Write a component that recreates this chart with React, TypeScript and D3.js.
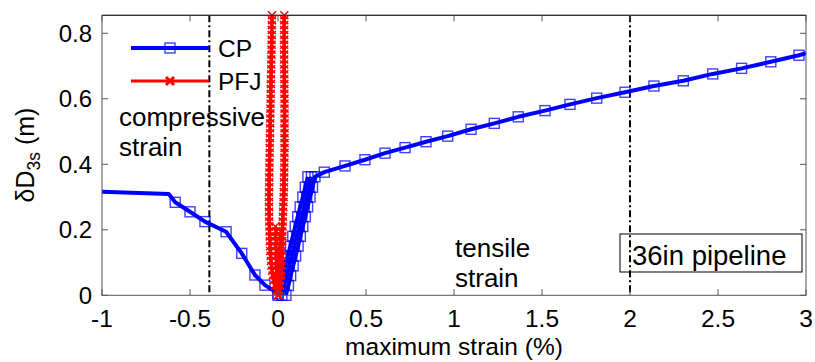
import React from 'react';
import * as d3 from 'd3';

const W = 815;
const H = 362;

// axis ticks
const xTicks = [-1, -0.5, 0, 0.5, 1, 1.5, 2, 2.5, 3];
const xTickLabels = ['-1', '-0.5', '0', '0.5', '1', '1.5', '2', '2.5', '3'];
const yTicks = [0, 0.2, 0.4, 0.6, 0.8];
const yTickLabels = ['0', '0.2', '0.4', '0.6', '0.8'];
const guideX = [-0.39, 2.0];

// CP: compressive branch
const cpLoadX = [-1, -0.62, -0.584, -0.5, -0.415, -0.295, -0.206, -0.131, -0.074, 0.0];
const cpLoadY = [0.316, 0.309, 0.284, 0.255, 0.225, 0.194, 0.128, 0.062, 0.031, 0.005];

// CP: rising traces near zero strain
const cpRiseAX = [0.0, 0.013, 0.027, 0.041, 0.055, 0.07, 0.084, 0.098, 0.112, 0.126, 0.141, 0.155, 0.17];
const cpRiseAY = [0.0, 0.03, 0.06, 0.09, 0.12, 0.15, 0.18, 0.21, 0.24, 0.27, 0.3, 0.33, 0.362];
const cpRiseCX = [0.022, 0.036, 0.05, 0.064, 0.078, 0.093, 0.107, 0.121, 0.135, 0.149, 0.163, 0.177, 0.19];
const cpRiseCY = [0.0, 0.03, 0.06, 0.09, 0.12, 0.15, 0.18, 0.21, 0.24, 0.27, 0.3, 0.33, 0.362];

// CP: tensile branch (starts near zero, continues to 3 %)
const cpTensX = [0.045, 0.059, 0.072, 0.086, 0.1, 0.114, 0.127, 0.141, 0.155, 0.168, 0.182, 0.196, 0.21,
  0.263, 0.381, 0.494, 0.608, 0.722, 0.841, 0.964, 1.097, 1.229, 1.365, 1.517, 1.659, 1.811, 1.972,
  2.136, 2.303, 2.47, 2.634, 2.8, 2.96, 3.0];
const cpTensY = [0.0, 0.03, 0.06, 0.09, 0.12, 0.15, 0.18, 0.21, 0.24, 0.27, 0.3, 0.33, 0.362,
  0.376, 0.395, 0.414, 0.434, 0.451, 0.469, 0.486, 0.507, 0.525, 0.545, 0.564, 0.583, 0.602, 0.62,
  0.639, 0.655, 0.676, 0.693, 0.713, 0.733, 0.739];

// PFJ traces
const pfjY = [0, 0.015, 0.03, 0.045, 0.06, 0.075, 0.09, 0.105, 0.12, 0.135, 0.15, 0.165, 0.18, 0.195,
  0.21, 0.225, 0.24, 0.255, 0.27, 0.285, 0.3, 0.315, 0.33, 0.345, 0.36, 0.375, 0.39, 0.405, 0.42,
  0.435, 0.45, 0.465, 0.48, 0.495, 0.51, 0.525, 0.54, 0.555, 0.57, 0.585, 0.6, 0.615, 0.63, 0.645,
  0.66, 0.675, 0.69, 0.705, 0.72, 0.735, 0.75, 0.765, 0.78, 0.795, 0.81, 0.825, 0.84, 0.855];
const pfjAX = [0, -0.008, -0.018, -0.025, -0.03, -0.034, -0.037, -0.04, -0.042, -0.044, -0.045, -0.046,
  -0.047, -0.048, -0.049, -0.05, -0.05, -0.051, -0.051, -0.051, -0.051, -0.051, -0.05, -0.05, -0.05,
  -0.049, -0.049, -0.048, -0.048, -0.047, -0.047, -0.046, -0.046, -0.045, -0.045, -0.044, -0.044,
  -0.043, -0.043, -0.042, -0.042, -0.041, -0.041, -0.04, -0.04, -0.039, -0.039, -0.038, -0.038,
  -0.037, -0.037, -0.036, -0.036, -0.035, -0.035, -0.035, -0.034, -0.034];
const pfjBX = [0.002, 0.006, 0.01, 0.013, 0.016, 0.018, 0.02, 0.021, 0.022, 0.023, 0.024, 0.024,
  0.025, 0.025, 0.026, 0.027, 0.028, 0.029, 0.03, 0.031, 0.032, 0.033, 0.034, 0.034, 0.035, 0.035,
  0.036, 0.036, 0.036, 0.037, 0.037, 0.037, 0.037, 0.037, 0.037, 0.037, 0.037, 0.037, 0.037, 0.037,
  0.037, 0.036, 0.036, 0.036, 0.036, 0.036, 0.035, 0.035, 0.035, 0.035, 0.035, 0.035, 0.035, 0.035,
  0.035, 0.035, 0.035, 0.036];
const pfjCX = [0, -0.004, -0.008, -0.006, -0.01, -0.007, -0.011, -0.008, -0.012, -0.009, -0.013, -0.01, -0.014, -0.011, -0.015];
const pfjCY = [0, 0.015, 0.03, 0.045, 0.06, 0.075, 0.09, 0.105, 0.12, 0.135, 0.15, 0.165, 0.18, 0.195, 0.21];
const pfjDX = [0.002, 0.005, 0.003, 0.007, 0.005, 0.009, 0.007, 0.011, 0.009, 0.012, 0.011, 0.014, 0.013, 0.016];
const pfjDY = [0, 0.015, 0.03, 0.045, 0.06, 0.075, 0.09, 0.105, 0.12, 0.135, 0.15, 0.165, 0.18, 0.195];

const legendLabels = ['CP', 'PFJ'];

const BLUE = '#0000ff';
const RED = '#ff0000';
const FONT = '"Liberation Sans", Arial, Helvetica, sans-serif';

type P = [number, number];
const zip = (xs: number[], ys: number[]): P[] => xs.slice(0, Math.min(xs.length, ys.length)).map((v, i) => [v, ys[i]]);

export default function App() {
  const x = d3.scaleLinear().domain([-1, 3]).range([102, 806]);
  const y = d3.scaleLinear().domain([0, 0.855]).range([295.3, 15.3]);
  const [x0, x1] = x.range();
  const [y0, y1] = y.range();
  const line = d3.line<P>().x(d => x(d[0])).y(d => y(d[1]));

  const cpLoad = zip(cpLoadX, cpLoadY);
  const cpTraces = [cpLoad, zip(cpRiseAX, cpRiseAY), zip(cpRiseCX, cpRiseCY), zip(cpTensX, cpTensY)];
  const pfjTraces = [zip(pfjAX, pfjY), zip(pfjBX, pfjY), zip(pfjCX, pfjCY), zip(pfjDX, pfjDY)];

  const cpMarkers = cpTraces.flat().filter(d => d[0] > -0.6 && d[0] < 3);
  const pfjMarkers = pfjTraces.flat();

  const sq = (cx: number, cy: number, k: string) => (
    <rect key={k} x={cx - 5} y={cy - 5} width={10} height={10} fill="none" stroke={BLUE} strokeWidth={1.4} strokeOpacity={0.75} />
  );
  const cross = (cx: number, cy: number, k: string, s = 4, sw = 1.5) => (
    <path key={k} d={`M${cx - s},${cy - s}L${cx + s},${cy + s}M${cx - s},${cy + s}L${cx + s},${cy - s}`} stroke={RED} strokeWidth={sw} fill="none" />
  );

  const tickLen = 6;
  const axisColor = '#555';

  return (
    <svg width={W} height={H} viewBox={`0 0 ${W} ${H}`} style={{ position: 'absolute', left: 0, top: 0, background: '#fff' }} fontFamily={FONT}>
      <defs>
        <clipPath id="plotClip">
          <rect x={x0} y={y1} width={x1 - x0} height={y0 - y1} />
        </clipPath>
      </defs>
      <rect x={0} y={0} width={W} height={H} fill="#fff" />

      {/* guide lines */}
      {guideX.map((g, i) => (
        <line key={'g' + i} x1={x(g)} x2={x(g)} y1={y1} y2={y0} stroke="#000" strokeWidth={2} strokeDasharray="7,3,2,3" />
      ))}

      {/* CP */}
      <g clipPath="url(#plotClip)">
        {cpTraces.map((t, i) => (
          <path key={'cp' + i} d={line(t) || ''} fill="none" stroke={BLUE} strokeWidth={4} strokeLinejoin="round" />
        ))}
      </g>
      {cpMarkers.map((d, i) => sq(x(d[0]), y(d[1]), 'cpm' + i))}

      {/* PFJ */}
      <g clipPath="url(#plotClip)">
        {pfjTraces.map((t, i) => (
          <path key={'pf' + i} d={line(t) || ''} fill="none" stroke={RED} strokeWidth={3.5} strokeLinejoin="round" />
        ))}
      </g>
      {pfjMarkers.map((d, i) => cross(x(d[0]), y(d[1]), 'pfm' + i))}

      {/* axes box */}
      <rect x={x0} y={y1} width={x1 - x0} height={y0 - y1} fill="none" stroke={axisColor} strokeWidth={1} />
      <line x1={x0} x2={x1} y1={y1} y2={y1} stroke="#333" strokeWidth={1.2} />
      {xTicks.map((t, i) => (
        <g key={'xt' + i}>
          <line x1={x(t)} x2={x(t)} y1={y0} y2={y0 - tickLen} stroke={axisColor} />
          <line x1={x(t)} x2={x(t)} y1={y1} y2={y1 + tickLen} stroke={axisColor} />
          <text x={x(t)} y={327} fontSize={24.5} textAnchor="middle" fill="#000">{xTickLabels[i]}</text>
        </g>
      ))}
      {yTicks.map((t, i) => (
        <g key={'yt' + i}>
          <line x1={x0} x2={x0 + tickLen} y1={y(t)} y2={y(t)} stroke={axisColor} />
          <line x1={x1} x2={x1 - tickLen} y1={y(t)} y2={y(t)} stroke={axisColor} />
          <text x={92} y={y(t) + 8.5} fontSize={24} textAnchor="end" fill="#000">{yTickLabels[i]}</text>
        </g>
      ))}

      {/* axis labels */}
      <text x={454} y={355} fontSize={24.5} textAnchor="middle" fill="#000">maximum strain (%)</text>
      <text transform="translate(34,155) rotate(-90)" fontSize={25} textAnchor="middle" fill="#000">
        δD<tspan fontSize={17.5} dy={6}>3s</tspan><tspan dy={-6}> (m)</tspan>
      </text>

      {/* annotations */}
      <text x={119} y={126} fontSize={26} fill="#000">compressive</text>
      <text x={119} y={156} fontSize={26} fill="#000">strain</text>
      <text x={455} y={257} fontSize={26} fill="#000">tensile</text>
      <text x={455} y={287} fontSize={26} fill="#000">strain</text>
      <rect x={620} y={234} width={182} height={38} fill="none" stroke="#000" strokeWidth={1} />
      <text x={632} y={265} fontSize={27.5} fill="#000">36in pipeline</text>

      {/* legend */}
      <line x1={131} x2={209} y1={48} y2={48} stroke={BLUE} strokeWidth={4} />
      {sq(170, 48, 'lg0')}
      <text x={218} y={57} fontSize={24.5} fill="#000">{legendLabels[0]}</text>
      <line x1={131} x2={209} y1={81} y2={81} stroke={RED} strokeWidth={3} />
      {cross(170, 81, 'lg1', 4, 3)}
      <text x={218} y={90} fontSize={24.5} fill="#000">{legendLabels[1]}</text>
    </svg>
  );
}
